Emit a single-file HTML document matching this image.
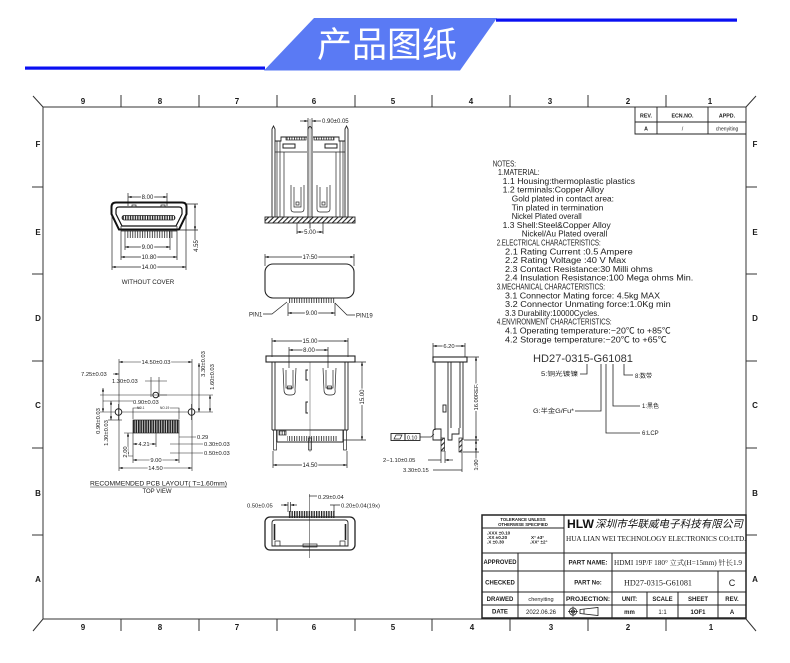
<!DOCTYPE html>
<html><head><meta charset="utf-8">
<style>
html,body{margin:0;padding:0;background:#fff;}
svg{display:block;}
text{font-family:"Liberation Sans","Noto Sans CJK SC",sans-serif;fill:#1a1a1a;}
.b{font-weight:bold;}
.w{stroke:#fff;stroke-width:2.2px;paint-order:stroke;}
</style></head><body>
<svg width="790" height="663" viewBox="0 0 790 663" xmlns="http://www.w3.org/2000/svg">
<defs>
<marker id="ar" viewBox="0 0 6 4" refX="6" refY="2" markerWidth="4" markerHeight="2.4" markerUnits="userSpaceOnUse" orient="auto-start-reverse"><path d="M0,0L6,2L0,4z" fill="#222"/></marker>
<pattern id="pt" width="2.45" height="60" patternUnits="userSpaceOnUse"><rect width="0.8" height="60" fill="#222"/></pattern>
<pattern id="pm" width="2.45" height="60" patternUnits="userSpaceOnUse"><rect width="1.3" height="60" fill="#222"/></pattern>
<pattern id="pd" width="2.42" height="60" patternUnits="userSpaceOnUse"><rect width="1.7" height="60" fill="#222"/></pattern>
<pattern id="ht" width="3.5" height="3.5" patternUnits="userSpaceOnUse" patternTransform="rotate(45)"><rect width="1.1" height="3.5" fill="#222"/></pattern>
</defs>

<!-- HEADER -->
<rect x="25" y="66.5" width="240" height="3.2" fill="#0a10f2"/>
<rect x="496" y="18.5" width="241" height="3.2" fill="#0a10f2"/>
<polygon points="264,70.5 314,18 497,18 460,70.5" fill="#5a7af4"/>
<text x="387" y="57" font-size="35" text-anchor="middle" style="font-family:'Noto Sans CJK SC',sans-serif;fill:#fff">产品图纸</text>

<!-- FRAME -->
<g stroke="#333" stroke-width="1" fill="none">
<path d="M43,107H746V619H43Z"/>
<path d="M33,96L43,107M756,96L746,107M43,619L33,631M746,619L756,631"/>
<path d="M121,95V107M199,95V107M277,95V107M355,95V107M432,95V107M510,95V107M588,95V107M666,95V107"/>
<path d="M121,619V631M199,619V631M277,619V631M355,619V631M432,619V631M510,619V631M588,619V631M666,619V631"/>
<path d="M32,187H43M32,274H43M32,361H43M32,448H43M32,535H43"/>
<path d="M746,187H757M746,274H757M746,361H757M746,448H757M746,535H757"/>
</g>
<g font-size="8" class="b" text-anchor="middle">
<text x="83" y="104" class="b">9</text><text x="160" y="104" class="b">8</text><text x="237" y="104" class="b">7</text><text x="314" y="104" class="b">6</text><text x="393" y="104" class="b">5</text><text x="471" y="104" class="b">4</text><text x="550" y="104" class="b">3</text><text x="628" y="104" class="b">2</text><text x="710" y="104" class="b">1</text>
<text x="83" y="630" class="b">9</text><text x="160" y="630" class="b">8</text><text x="237" y="630" class="b">7</text><text x="314" y="630" class="b">6</text><text x="393" y="630" class="b">5</text><text x="472" y="630" class="b">4</text><text x="551" y="630" class="b">3</text><text x="628" y="630" class="b">2</text><text x="711" y="630" class="b">1</text>
<text x="38" y="147" class="b">F</text><text x="38" y="235" class="b">E</text><text x="38" y="321" class="b">D</text><text x="38" y="408" class="b">C</text><text x="38" y="496" class="b">B</text><text x="38" y="582" class="b">A</text>
<text x="755" y="147" class="b">F</text><text x="755" y="235" class="b">E</text><text x="755" y="321" class="b">D</text><text x="755" y="408" class="b">C</text><text x="755" y="496" class="b">B</text><text x="755" y="582" class="b">A</text>
</g>

<!-- REV TABLE -->
<path d="M635,107V134H746M635,122H746M657,107V134M708,107V134" stroke="#222" stroke-width="0.9" fill="none"/>
<g font-size="5.3" text-anchor="middle">
<text x="646" y="117.5" class="b">REV.</text><text x="682.5" y="117.5" class="b">ECN.NO.</text><text x="727" y="117.5" class="b">APPD.</text>
<text x="646" y="130.5" class="b">A</text><text x="682.5" y="130.5">/</text><text x="727" y="130.5" font-size="5">chenyiting</text>
</g>

<!-- VIEW A: front without cover -->
<g stroke="#222" fill="none" stroke-width="0.7">
<path d="M128,193V206M167,193V206"/>
<line x1="128" y1="197" x2="167" y2="197" marker-start="url(#ar)" marker-end="url(#ar)"/>
<path d="M116,202.5H182Q186.5,202.5 186.5,207V214L179,229.5H119L111.5,214V207Q111.5,202.5 116,202.5Z" stroke="#111" stroke-width="2"/>
<path d="M119,207H179Q182,207 182,210V214L176,226H122L116,214V210Q116,207 119,207Z" stroke="#111" stroke-width="1.2"/>
<rect x="122" y="215.5" width="53" height="4.5" rx="2" fill="url(#pm)"/>
<rect x="132" y="205" width="4" height="2"/><rect x="161" y="205" width="4" height="2"/>
<path d="M121,231H177"/>
<rect x="126" y="231" width="47" height="7" fill="url(#pt)" stroke="none"/>
<path d="M125,231V250M170,231V250M121,226V260M177,226V260M112,215V270M186,215V270"/>
<line x1="125" y1="247" x2="170" y2="247" marker-start="url(#ar)" marker-end="url(#ar)"/>
<line x1="121" y1="257" x2="177" y2="257" marker-start="url(#ar)" marker-end="url(#ar)"/>
<line x1="112" y1="267" x2="186" y2="267" marker-start="url(#ar)" marker-end="url(#ar)"/>
<path d="M187,204H198M180,230H198M195,230V240"/>
<line x1="195" y1="204" x2="195" y2="230" marker-start="url(#ar)" marker-end="url(#ar)"/>
</g>
<g font-size="6" text-anchor="middle">
<text x="147.5" y="199.2" class="w">8.00</text>
<text x="147.5" y="249.2" class="w">9.00</text>
<text x="149" y="259.2" class="w">10.80</text>
<text x="149" y="269.2" class="w">14.00</text>
<text transform="translate(198,246) rotate(-90)">4.55</text>
<text x="148" y="284" font-size="6.2">WITHOUT COVER</text>
</g>

<!-- VIEW B: side section -->
<g stroke="#222" fill="none" stroke-width="0.7">
<path d="M308,118V130M312,118V130"/>
<line x1="300" y1="121" x2="308" y2="121" marker-end="url(#ar)"/>
<line x1="321" y1="121" x2="312" y2="121" marker-end="url(#ar)"/>
<path d="M272,217V129L273.5,126L275,129V217M345,217V129L346.5,126L348,129V217M308,217V129Q310,124 312,129V217" stroke-width="0.9"/>
<path d="M275,141H281V137H307M313,137H339V141H345" stroke-width="0.9"/>
<rect x="286" y="137" width="20" height="3" fill="url(#pt)"/><rect x="314" y="137" width="20" height="3" fill="url(#pt)"/>
<path d="M275,152H307M313,152H345"/>
<rect x="283" y="144" width="12" height="4" stroke-width="1"/><rect x="325" y="144" width="12" height="4" stroke-width="1"/>
<path d="M277,141V217M280,141V217M284,152V217M336,152V217M340,141V217M343,141V217"/>
<path d="M310,119V232" stroke-width="0.4"/>
<path d="M291,185V209Q291,212 294,212H301Q304,212 304,209V185M294,187V207H301V187"/>
<rect x="296" y="202" width="3" height="3"/>
<path d="M317,185V209Q317,212 320,212H327Q330,212 330,209V185M320,187V207H327V187"/>
<rect x="322" y="202" width="3" height="3"/>
<rect x="265" y="217" width="90" height="6" fill="url(#ht)" stroke-width="0.9"/>
<path d="M297,223V234M310,223V231M323,223V234"/>
<line x1="297" y1="232" x2="323" y2="232" marker-start="url(#ar)" marker-end="url(#ar)"/>
</g>
<g font-size="6">
<text x="322" y="123">0.90±0.05</text>
<text x="310" y="234" text-anchor="middle" class="w">5.00</text>
</g>

<!-- VIEW C: top view -->
<g stroke="#222" fill="none" stroke-width="0.7">
<path d="M265,254V266M354,254V266"/>
<line x1="265" y1="257" x2="354" y2="257" marker-start="url(#ar)" marker-end="url(#ar)"/>
<rect x="265" y="264" width="89" height="34" rx="8" stroke-width="1.1"/>
<rect x="288" y="298" width="47" height="5" fill="url(#pt)" stroke="none"/>
<path d="M288,303V316M335,303V316"/>
<line x1="288" y1="313" x2="335" y2="313" marker-start="url(#ar)" marker-end="url(#ar)"/>
<polyline points="263,314 272,314 287,302"/>
<polyline points="355,315 347,315 335,303"/>
</g>
<g font-size="6">
<text x="310" y="259.2" text-anchor="middle" class="w">17.50</text>
<text x="311.5" y="315.2" text-anchor="middle" class="w">9.00</text>
<text x="249" y="316.5">PIN1</text>
<text x="356" y="317.5">PIN19</text>
</g>

<!-- VIEW D: PCB layout -->
<g stroke="#222" fill="none" stroke-width="0.6">
<path d="M119,359V471M192,359V471"/>
<line x1="119" y1="362" x2="192" y2="362" marker-start="url(#ar)" marker-end="url(#ar)"/>
<line x1="113" y1="374" x2="119" y2="374" marker-end="url(#ar)"/>
<path d="M145,381H167M151,377V397M159,377V397"/>
<circle cx="155.7" cy="395" r="2.8" stroke-width="1"/>
<path d="M100,395H167"/>
<path d="M160,395H213M195,412H213"/>
<line x1="199" y1="363" x2="199" y2="412" marker-start="url(#ar)" marker-end="url(#ar)"/>
<line x1="210" y1="395" x2="210" y2="412" marker-start="url(#ar)" marker-end="url(#ar)"/>
<path d="M103,401H133"/>
<circle cx="118.5" cy="412" r="3.3" stroke-width="1"/>
<circle cx="191.5" cy="412" r="3.3" stroke-width="1"/>
<path d="M100,412H115M122,412H188M118.5,404V420M191.5,404V420"/>
<line x1="103" y1="388" x2="103" y2="412" marker-start="url(#ar)" marker-end="url(#ar)"/>
<line x1="111" y1="401" x2="111" y2="420" marker-start="url(#ar)" marker-end="url(#ar)"/>
<path d="M108,420H122"/>
<rect x="133" y="420" width="46" height="13" fill="url(#pd)" stroke-width="0.7"/>
<path d="M133,419V408H141M179,419V408H170"/>
<path d="M133,433V463M179,433V463M156,433V447"/>
<line x1="133" y1="444" x2="156" y2="444" marker-start="url(#ar)" marker-end="url(#ar)"/>
<path d="M179,437H196M170,444H203M170,453H203"/>
<path d="M124,433H133M124,456H133"/>
<line x1="128" y1="433" x2="128" y2="456" marker-start="url(#ar)" marker-end="url(#ar)"/>
<line x1="133" y1="460" x2="179" y2="460" marker-start="url(#ar)" marker-end="url(#ar)"/>
<line x1="119" y1="468" x2="192" y2="468" marker-start="url(#ar)" marker-end="url(#ar)"/>
<path d="M90,487H227"/>
</g>
<g font-size="5.8">
<text x="156" y="364" text-anchor="middle" class="w">14.50±0.03</text>
<text x="81" y="376">7.25±0.03</text>
<text x="112" y="383">1.30±0.03</text>
<text x="133" y="404">0.90±0.03</text>
<text transform="translate(205,364) rotate(-90)" text-anchor="middle">3.30±0.03</text>
<text transform="translate(214,377) rotate(-90)" text-anchor="middle">1.60±0.03</text>
<text transform="translate(100,421) rotate(-90)" text-anchor="middle">0.90±0.03</text>
<text transform="translate(108,433) rotate(-90)" text-anchor="middle">1.30±0.03</text>
<text x="137" y="409" font-size="3.2">NO.1</text>
<text x="160" y="409" font-size="3.2">NO.19</text>
<text x="197" y="439">0.29</text>
<text x="204" y="446">0.30±0.03</text>
<text x="204" y="455">0.50±0.03</text>
<text x="144" y="446" text-anchor="middle" class="w">4.21</text>
<text transform="translate(127,452) rotate(-90)" text-anchor="middle" class="w">2.00</text>
<text x="156" y="462" text-anchor="middle" class="w">9.00</text>
<text x="155.5" y="470" text-anchor="middle" class="w">14.50</text>
<text x="90" y="485.5" font-size="6" textLength="137" lengthAdjust="spacingAndGlyphs">RECOMMENDED PCB  LAYOUT( T=1.60mm)</text>
<text x="157" y="493" font-size="6" text-anchor="middle">TOP VIEW</text>
</g>

<!-- VIEW E: front view -->
<g stroke="#222" fill="none" stroke-width="0.7">
<path d="M272,338V357M348,338V357M289,347V368M328,347V368"/>
<line x1="272" y1="341" x2="348" y2="341" marker-start="url(#ar)" marker-end="url(#ar)"/>
<line x1="289" y1="350" x2="328" y2="350" marker-start="url(#ar)" marker-end="url(#ar)"/>
<rect x="266" y="356" width="89" height="6" stroke-width="1.1"/>
<path d="M272,362V430M348,362V430M275,362V430M345,362V430" stroke-width="0.9"/>
<path d="M310,362V452" stroke-width="0.4"/>
<path d="M283,368L284,390Q284,395 289,395H291Q296,395 295,390L296,368M286,370V388H293V370"/>
<rect x="287.5" y="386" width="4" height="3"/>
<path d="M323,368L324,390Q324,395 329,395H331Q336,395 335,390L336,368M326,370V388H333V370"/>
<rect x="327.5" y="386" width="4" height="3"/>
<path d="M308,370H306V380H308M308,402H306V413H308" stroke-width="1"/>
<path d="M272,430H348M277,430V442M343,430V442M277,442H343" stroke-width="0.9"/>
<rect x="279" y="431" width="7" height="4" fill="url(#pt)"/>
<rect x="287" y="436" width="50" height="5" fill="url(#pt)" stroke="none"/>
<rect x="273.5" y="430" width="3" height="20"/>
<rect x="343.5" y="430" width="3" height="20"/>
<rect x="308.5" y="438" width="3" height="12"/>
<path d="M350,362H366M343,440H366"/>
<line x1="362" y1="362" x2="362" y2="440" marker-start="url(#ar)" marker-end="url(#ar)"/>
<path d="M273,451V468M347,451V468"/>
<line x1="273" y1="465" x2="347" y2="465" marker-start="url(#ar)" marker-end="url(#ar)"/>
</g>
<g font-size="6" text-anchor="middle">
<text x="310" y="343.2" class="w">15.00</text>
<text x="309" y="352.2" class="w">8.00</text>
<text transform="translate(364.2,397) rotate(-90)" class="w">15.00</text>
<text x="310" y="467.2" class="w">14.50</text>
</g>

<!-- VIEW F: side view -->
<g stroke="#222" fill="none" stroke-width="0.7">
<path d="M433,343V357M465,343V357"/>
<line x1="433" y1="346" x2="465" y2="346" marker-start="url(#ar)" marker-end="url(#ar)"/>
<rect x="433" y="357" width="34" height="5" stroke-width="1.1"/>
<path d="M435,362V430M463,362V440M448,362V428M451,362V428M460,362V428" stroke-width="0.9"/>
<rect x="443" y="405" width="3" height="7" stroke-width="0.9"/>
<path d="M433,440V432Q433,429 436,429H441V440Z" stroke-width="0.9"/>
<rect x="441" y="438" width="3.5" height="13" fill="url(#ht)"/>
<path d="M448,428V440H452V434H459V428" stroke-width="0.9"/>
<rect x="459" y="438" width="3" height="14" fill="url(#ht)"/>
<path d="M467,357H479M464,440H479M463,452H479"/>
<line x1="476" y1="357" x2="476" y2="440" marker-start="url(#ar)" marker-end="url(#ar)"/>
<line x1="476" y1="440" x2="476" y2="452" marker-start="url(#ar)" marker-end="url(#ar)"/>
<path d="M476,452V470"/>
<rect x="391" y="433.5" width="14" height="7" stroke-width="0.9"/>
<rect x="405" y="433.5" width="15" height="7" stroke-width="0.9"/>
<polygon points="394,439 396,435 402,435 400,439" stroke-width="0.7"/>
<path d="M420,437H431L434,434"/>
<path d="M428,460H441M441,451V463M445,451V463"/>
<line x1="453" y1="460" x2="445" y2="460" marker-end="url(#ar)"/>
<path d="M433,470H462M462,452V472"/>
</g>
<g font-size="5.8">
<text x="449" y="348.2" text-anchor="middle" class="w">6.20</text>
<text transform="translate(478.2,397) rotate(-90)" text-anchor="middle" class="w">16.00REF.</text>
<text transform="translate(478.2,465) rotate(-90)" text-anchor="middle" class="w">1.90</text>
<text x="407" y="439.5" font-size="5.3">0.10</text>
<text x="383" y="462">2−1.10±0.05</text>
<text x="403" y="472">3.30±0.15</text>
</g>

<!-- VIEW G: bottom view -->
<g stroke="#222" fill="none" stroke-width="0.7">
<path d="M309.5,494V558" stroke-width="0.5"/>
<path d="M309,496H317"/>
<path d="M288,502V512M290.5,502V512"/>
<line x1="281" y1="505" x2="288" y2="505" marker-end="url(#ar)"/>
<line x1="297" y1="505" x2="290.5" y2="505" marker-end="url(#ar)"/>
<path d="M330,505H340M334,505V512"/>
<rect x="288" y="511" width="47" height="7" fill="url(#pm)" stroke="none"/>
<rect x="265" y="517" width="90" height="33" rx="5" stroke-width="1.3"/>
<path d="M272,546V523Q272,520 275,520H345Q348,520 348,523V546H272Z" stroke-width="0.9"/>
<path d="M274.5,524V540M345.5,524V540" stroke-width="1.6"/>
<rect x="275" y="541" width="5" height="5"/>
<rect x="340" y="541" width="5" height="5"/>
<rect x="303" y="544" width="14" height="3"/>
</g>
<g font-size="5.8">
<text x="318" y="499">0.29±0.04</text>
<text x="247" y="507.5">0.50±0.05</text>
<text x="341" y="507.5">0.20±0.04(19x)</text>
</g>

<!-- NOTES -->
<g font-size="8.4" style="fill:#111">
<text x="492.7" y="166.3" textLength="23.3" lengthAdjust="spacingAndGlyphs">NOTES:</text>
<text x="498" y="175.1" textLength="41.7" lengthAdjust="spacingAndGlyphs">1.MATERIAL:</text>
<text x="502.7" y="183.9" textLength="132.3" lengthAdjust="spacingAndGlyphs">1.1 Housing:thermoplastic plastics</text>
<text x="502.7" y="192.7" textLength="101.3" lengthAdjust="spacingAndGlyphs">1.2 terminals:Copper Alloy</text>
<text x="511.7" y="201.5" textLength="102.3" lengthAdjust="spacingAndGlyphs">Gold plated in contact area:</text>
<text x="511.7" y="210.3" textLength="91.7" lengthAdjust="spacingAndGlyphs">Tin plated in termination</text>
<text x="511.7" y="219.1" textLength="70" lengthAdjust="spacingAndGlyphs">Nickel Plated overall</text>
<text x="502.7" y="227.9" textLength="108" lengthAdjust="spacingAndGlyphs">1.3 Shell:Steel&amp;Copper Alloy</text>
<text x="521.7" y="236.7" textLength="85.7" lengthAdjust="spacingAndGlyphs">Nickel/Au Plated overall</text>
<text x="496.7" y="245.5" textLength="104" lengthAdjust="spacingAndGlyphs">2.ELECTRICAL CHARACTERISTICS:</text>
<text x="505" y="254.3" textLength="127.7" lengthAdjust="spacingAndGlyphs">2.1 Rating Current :0.5 Ampere</text>
<text x="505" y="263.1" textLength="121" lengthAdjust="spacingAndGlyphs">2.2 Rating Voltage :40 V Max</text>
<text x="505" y="271.9" textLength="147.7" lengthAdjust="spacingAndGlyphs">2.3 Contact Resistance:30 Milli ohms</text>
<text x="505" y="280.7" textLength="188.3" lengthAdjust="spacingAndGlyphs">2.4 Insulation Resistance:100 Mega ohms Min.</text>
<text x="496.7" y="289.5" textLength="108.3" lengthAdjust="spacingAndGlyphs">3.MECHANICAL CHARACTERISTICS:</text>
<text x="505" y="298.3" textLength="155" lengthAdjust="spacingAndGlyphs">3.1 Connector Mating force: 4.5kg MAX</text>
<text x="505" y="307.1" textLength="165.7" lengthAdjust="spacingAndGlyphs">3.2 Connector Unmating force:1.0Kg min</text>
<text x="505" y="315.9" textLength="94.3" lengthAdjust="spacingAndGlyphs">3.3 Durability:10000Cycles.</text>
<text x="496.7" y="324.7" textLength="115" lengthAdjust="spacingAndGlyphs">4.ENVIRONMENT CHARACTERISTICS:</text>
<text x="505" y="333.5" textLength="165.7" lengthAdjust="spacingAndGlyphs">4.1 Operating temperature:−20℃ to +85℃</text>
<text x="505" y="342.3" textLength="161.7" lengthAdjust="spacingAndGlyphs">4.2 Storage temperature:−20℃ to +65℃</text>
</g>

<!-- PART NUMBER BREAKDOWN -->
<text x="533" y="362" font-size="11" textLength="100" lengthAdjust="spacingAndGlyphs" style="fill:#333">HD27-0315-G61081</text>
<g stroke="#222" fill="none" stroke-width="0.8">
<path d="M587,364V374H580M624,364V375H633M601,364V411H575M613,364V406H640M606,364V433H640"/>
</g>
<g font-size="6">
<text x="541" y="376" textLength="37" lengthAdjust="spacingAndGlyphs">5:铜光镀镍</text>
<text x="635" y="378">8:数带</text>
<text x="533" y="413" textLength="41" lengthAdjust="spacingAndGlyphs">G:半金G/Fu*</text>
<text x="642" y="408">1:黑色</text>
<text x="642" y="435">6:LCP</text>
</g>

<!-- TITLE BLOCK -->
<g stroke="#222" fill="none">
<rect x="482" y="515" width="264" height="103" stroke-width="1.5"/>
<path stroke-width="1" d="M482,553H746M482,571H746M482,592H746M482,605H746M482,528H564M518,553V618M564,515V618M612,553V618M647,592V618M678,592V618M718,571V618"/>
</g>
<g text-anchor="middle">
<text x="523" y="520.8" font-size="4.3" class="b">TOLERANCE UNLESS</text>
<text x="523" y="525.8" font-size="4.3" class="b">OTHERWISE SPECIFIED</text>
</g>
<g font-size="4.6" class="b">
<text x="487" y="534.5" class="b">.XXX  ±0.10</text>
<text x="487" y="539" class="b">.XX    ±0.20</text>
<text x="487" y="543.5" class="b">.X      ±0.30</text>
<text x="531" y="539" class="b">X°    ±3°</text>
<text x="530" y="543.5" class="b">.XX°  ±2°</text>
</g>
<text x="567" y="528" font-size="11.5" class="b" textLength="27" lengthAdjust="spacingAndGlyphs" style="fill:#111">HLW</text>
<text x="595" y="527.5" font-size="10.5" font-style="italic" textLength="148" lengthAdjust="spacingAndGlyphs" style="fill:#111">深圳市华联威电子科技有限公司</text>
<text x="566" y="541" font-size="7.6" textLength="180" lengthAdjust="spacingAndGlyphs" style="font-family:'Liberation Serif',serif;fill:#111">HUA LIAN WEI TECHNOLOGY ELECTRONICS CO:LTD.</text>
<g font-size="6" text-anchor="middle">
<text x="500" y="564" class="b" textLength="33" lengthAdjust="spacingAndGlyphs">APPROVED</text>
<text x="500" y="584.5" class="b">CHECKED</text>
<text x="500" y="600.8" class="b">DRAWED</text>
<text x="500" y="613.5" class="b">DATE</text>
<text x="541" y="600.8" font-size="5.6">chenyiting</text>
<text x="541" y="613.8">2022.06.26</text>
<text x="588" y="564.5" class="b" textLength="39" lengthAdjust="spacingAndGlyphs">PART NAME:</text>
<text x="588" y="584.5" class="b">PART No:</text>
<text x="588" y="600.8" class="b" textLength="44" lengthAdjust="spacingAndGlyphs">PROJECTION:</text>
<text x="629.5" y="600.8" class="b">UNIT:</text>
<text x="662.5" y="600.8" class="b">SCALE</text>
<text x="698" y="600.8" class="b">SHEET</text>
<text x="732" y="600.8" class="b">REV.</text>
<text x="629.5" y="614" class="b">mm</text>
<text x="662.5" y="614">1:1</text>
<text x="698" y="614" class="b">1OF1</text>
<text x="732" y="614" class="b">A</text>
</g>
<text x="614" y="565" font-size="6.8" textLength="128" lengthAdjust="spacingAndGlyphs" style="font-family:'Liberation Serif','Noto Serif CJK SC',serif">HDMI 19P/F 180° 立式(H=15mm) 针长1.9</text>
<text x="658" y="585.5" font-size="8.2" text-anchor="middle" textLength="68" lengthAdjust="spacingAndGlyphs" style="font-family:'Liberation Serif',serif">HD27-0315-G61081</text>
<text x="732" y="586" font-size="9" text-anchor="middle">C</text>
<g stroke="#222" fill="none" stroke-width="0.8">
<circle cx="573" cy="611.5" r="3.6"/>
<circle cx="573" cy="611.5" r="1.6"/>
<path d="M568,611.5H578M573,606.5V616.5"/>
<polygon points="580,609.5 598,607.5 598,615.5 580,613.5"/>
<path d="M584,609V614"/>
</g>
</svg>
</body></html>
